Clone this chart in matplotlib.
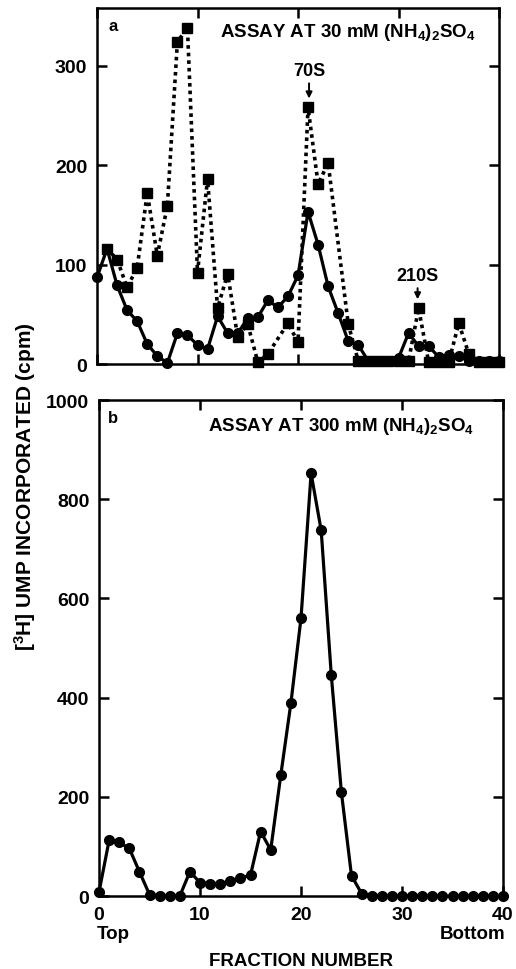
import matplotlib
matplotlib.use("Agg")
import matplotlib.pyplot as plt
import numpy as np

plt.rcParams['font.family'] = ['Liberation Sans', 'DejaVu Sans']
plt.rcParams['font.weight'] = 'bold'
plt.rcParams['mathtext.fontset'] = 'custom'
plt.rcParams['mathtext.rm'] = 'Liberation Sans:bold'
plt.rcParams['mathtext.default'] = 'rm'

# panel a: assay at 30 mM, solid circles
fractions = np.arange(41)
circles_a = [87, 116, 79, 54, 43, 20, 8, 1, 31, 29,
             19, 15, 48, 31, 31, 46, 47, 64, 57, 68,
             89, 153, 120, 78, 51, 23, 19, 3, 3, 3,
             6, 31, 18, 18, 7, 9, 8, 3, 3, 3, 3]
# panel a: dotted squares (not every fraction has a square)
squares_x = [1, 2, 3, 4, 5, 6, 7, 8, 9, 10, 11, 12, 13, 14, 15, 16, 17, 19, 20,
             21, 22, 23, 25, 26, 27, 28, 29, 30, 31, 32, 33, 34, 35, 36, 37, 38, 39, 40]
squares_a = [116, 105, 77, 97, 172, 109, 159, 324, 338, 92, 186, 56, 91, 27, 40, 2, 10, 41, 22,
             258, 181, 202, 40, 3, 3, 3, 3, 3, 3, 56, 2, 2, 2, 41, 10, 2, 2, 2]

# panel b: assay at 300 mM
circles_b = [8, 112, 108, 96, 49, 3, 0, 0, 0, 49,
             27, 25, 25, 30, 36, 42, 130, 93, 244, 389,
             560, 852, 737, 445, 209, 41, 5, 0, 0, 0,
             0, 0, 0, 0, 0, 0, 0, 0, 0, 0, 0]

W, H = 516, 970
fig = plt.figure(figsize=(W / 100, H / 100), dpi=100)
ax_a = fig.add_axes([97 / W, 1 - 365 / H, 402 / W, 356 / H])
ax_b = fig.add_axes([99 / W, 1 - 897 / H, 404 / W, 496 / H])

# dotted squares
ax_a.plot(squares_x, squares_a, linestyle=(0, (1, 1.1)), lw=2.6, color='black',
          marker='s', markersize=6.5, clip_on=False, zorder=3)
ax_a.plot(fractions, circles_a, '-', lw=2.3, color='black',
          marker='o', markersize=7, clip_on=False, zorder=4)

ax_b.plot(fractions, circles_b, '-', lw=2.3, color='black',
          marker='o', markersize=7, clip_on=False, zorder=4)

for ax in (ax_a, ax_b):
    ax.set_xlim(0, 40)
    ax.set_xticks([0, 10, 20, 30, 40])
    for sp in ax.spines.values():
        sp.set_linewidth(1.8)
    ax.tick_params(direction='in', length=7, width=1.8, top=True, right=True,
                   labelsize=14, pad=7)

ax_a.set_ylim(0, 358)
ax_a.set_yticks([0, 100, 200, 300])
ax_a.tick_params(labelbottom=False)

ax_b.set_ylim(0, 1000)
ax_b.set_yticks([0, 200, 400, 600, 800, 1000])
ax_b.set_xticklabels(['0', '10', '20', '30', '40'])

ax_a.text(0.04, 0.95, 'a', transform=ax_a.transAxes, fontsize=12, ha='center', va='center')
ax_a.text(0.306, 0.933, r'ASSAY AT 30 mM (NH$_4$)$_2$SO$_4$', transform=ax_a.transAxes,
          fontsize=13.5, ha='left', va='center')
ax_b.text(0.035, 0.964, 'b', transform=ax_b.transAxes, fontsize=12, ha='center', va='center')
ax_b.text(0.27, 0.948, r'ASSAY AT 300 mM (NH$_4$)$_2$SO$_4$', transform=ax_b.transAxes,
          fontsize=13.5, ha='left', va='center')

arrow = dict(arrowstyle='-|>', color='black', lw=1.4, mutation_scale=9, shrinkA=1, shrinkB=0)
ax_a.annotate('70S', xy=(21.1, 267), xytext=(21.1, 295), fontsize=13,
              ha='center', va='center', arrowprops=arrow)
ax_a.annotate('210S', xy=(31.9, 65), xytext=(31.9, 89), fontsize=13,
              ha='center', va='center', arrowprops=arrow)

fig.text(97 / W, 1 - 935 / H, 'Top', fontsize=13.5, ha='left', va='center')
fig.text(505 / W, 1 - 935 / H, 'Bottom', fontsize=13.5, ha='right', va='center')
fig.text(301 / W, 1 - 962 / H, 'FRACTION NUMBER', fontsize=13.5, ha='center', va='center')
fig.text(25 / W, 1 - 487 / H, r'[$^3$H] UMP INCORPORATED (cpm)', fontsize=15,
         rotation=90, ha='center', va='center')

fig.savefig('out.png', dpi=100)
